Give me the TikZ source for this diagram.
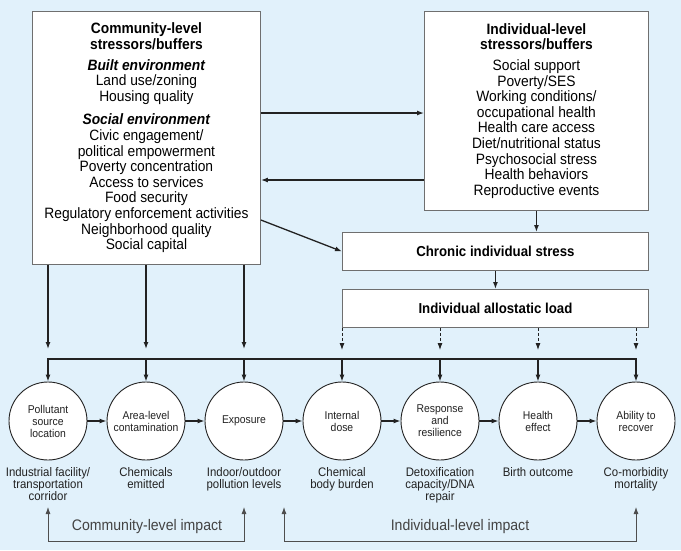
\documentclass[tikz,border=0pt]{standalone}
\usepackage{fontspec}
\setmainfont{Liberation Sans}[FakeStretch=0.92]
\usetikzlibrary{arrows.meta,positioning}
\definecolor{bgblue}{HTML}{E1F1FB}
\definecolor{ink}{HTML}{222222}

\begin{document}
\begin{tikzpicture}[x=1pt, y=-1pt,
    box/.style = {draw=ink!65, fill=white, line width=0.9pt, align=center, inner sep=0pt},
    blob/.style = {circle, draw=ink, fill=white, line width=0.9pt, minimum size=78pt, inner sep=0pt, align=center, text=ink, font=\fontsize{11.3}{12}\selectfont},
    caption/.style = {align=center, inner sep=0pt, text=ink, font=\fontsize{12.4}{11.8}\selectfont},
    arr/.style = {-{Latex[length=7pt, width=5pt]}, line width=1.3pt, draw=ink},
    dasharr/.style = {arr, line width=0.9pt, dash pattern=on 3pt off 2pt},
    impact/.style = {{Latex[length=7pt, width=5pt]}-{Latex[length=7pt, width=5pt]}, line width=0.8pt, draw=ink!80},
    impacttext/.style = {text=ink!85, font=\fontsize{15.3}{16}\selectfont}]
    \fill[bgblue] (0,0) rectangle (681,550);
    \useasboundingbox (0,0) rectangle (681,550);
    \pgfmathsetmacro{\barY}{359}  % units of points
    \pgfmathsetmacro{\baseY}{541}  % units of points
    % stressor boxes
    \node[box, anchor=north west, minimum width=228pt, minimum height=253pt, font=\fontsize{15}{15.6}\selectfont] (comm) at (32,11)
        {\textbf{Community-level}\\\textbf{stressors/buffers}\\[5pt]
         \textbf{\textit{Built environment}}\\Land use/zoning\\Housing quality\\[8pt]
         \textbf{\textit{Social environment}}\\Civic engagement/\\political empowerment\\Poverty concentration\\
         Access to services\\Food security\\Regulatory enforcement activities\\Neighborhood quality\\Social capital};
    \node[box, anchor=north west, minimum width=224pt, minimum height=199pt, font=\fontsize{15}{15.6}\selectfont] (ind) at (424,11)
        {\textbf{Individual-level}\\\textbf{stressors/buffers}\\[5pt]
         Social support\\Poverty/SES\\Working conditions/\\occupational health\\Health care access\\
         Diet/nutritional status\\Psychosocial stress\\Health behaviors\\Reproductive events};
    \node[box, anchor=north west, minimum width=306pt, minimum height=38pt, font=\bfseries\fontsize{14.4}{15}\selectfont] (chron) at (342,232) {Chronic individual stress};
    \node[box, anchor=north west, minimum width=306pt, minimum height=38pt, font=\bfseries\fontsize{14.4}{15}\selectfont] (allo) at (342,289) {Individual allostatic load};
    \draw[arr] (comm.east |- 0,113) -- (ind.west |- 0,113);
    \draw[arr] (ind.west |- 0,180) -- (comm.east |- 0,180);
    \draw[arr] (comm.east |- 0,220) -- (chron.west);
    \draw[arr] (ind.south) -- (ind.south |- chron.north);
    \draw[arr] (chron.south) -- (allo.north);
    % chain of circles
    \foreach \i/\txt in {1/{Pollutant\\source\\location}, 2/{Area-level\\contamination}, 3/{Exposure},
        4/{Internal\\dose}, 5/{Response\\and\\resilience}, 6/{Health\\effect}, 7/{Ability to\\recover}}
        \node[blob] (c\i) at ({48+98*(\i-1)},421) {\txt};
    \foreach \i/\txt in {1/{Industrial facility/\\transportation\\corridor}, 2/{Chemicals\\emitted}, 3/{Indoor/outdoor\\pollution levels},
        4/{Chemical\\body burden}, 5/{Detoxification\\capacity/DNA\\repair}, 6/{Birth outcome}, 7/{Co-morbidity\\mortality}}
        \node[caption, below=7pt of c\i] (l\i) {\txt};
    \foreach \i [count=\j from 2] in {1,...,6}
        \draw[arr] (c\i.east) -- (c\j.west);
    % bar above the circles
    \foreach \i in {1,...,7}
        \coordinate (bar\i) at (c\i |- 0,\barY);
    \draw[line width=1.3pt, ink, line cap=rect] (bar1) -- (bar7);
    \foreach \i in {1,...,7}
        \draw[arr] (bar\i) -- (c\i.north);
    \foreach \i in {1,2,3}
        \draw[arr] (comm.south -| c\i) -- ([yshift=10pt]bar\i);
    \foreach \i in {4,...,7}
        \draw[dasharr] (allo.south -| c\i) -- ([yshift=9pt]bar\i);
    % impact brackets
    \coordinate (ileft) at (284,507);
    \draw[impact] (c1 |- 0,507) -- (c1 |- 0,\baseY) -- (c3 |- 0,\baseY) -- (c3 |- 0,507);
    \draw[impact] (ileft) -- (ileft |- 0,\baseY) -- (c7 |- 0,\baseY) -- (c7 |- 0,507);
    \node[impacttext] (cimp) at (147,527) {Community-level impact};
    \node[impacttext] (iimp) at (460,527) {Individual-level impact};
\end{tikzpicture}
\end{document}
